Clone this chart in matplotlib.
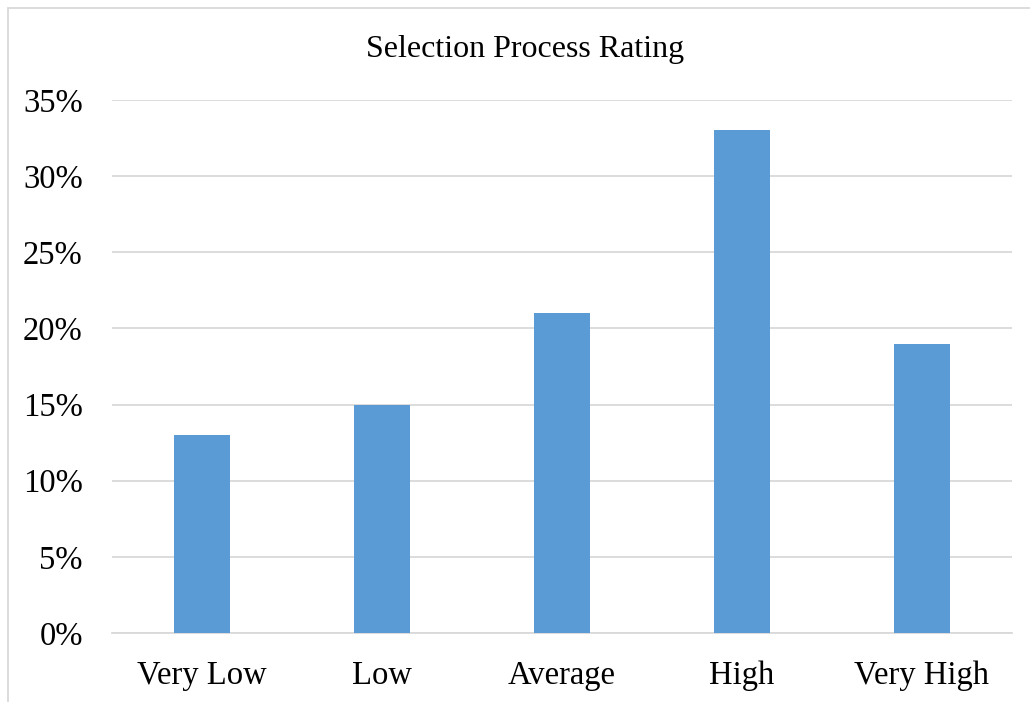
import matplotlib
matplotlib.use("Agg")
import matplotlib.pyplot as plt
from matplotlib.ticker import FuncFormatter, MultipleLocator
from matplotlib.patches import Rectangle

categories = ["Very Low", "Low", "Average", "High", "Very High"]
shares = [13, 15, 21, 33, 19]
title = "Selection Process Rating"

plt.rcParams["font.family"] = ["Liberation Serif", "DejaVu Serif"]

W, H = 1030, 702
fig = plt.figure(figsize=(W / 100, H / 100), dpi=100)

# light frame around the chart area (left and top edges visible)
fig.patches.append(Rectangle((8 / W, -0.1), 1.2, 1 - 7.5 / H + 0.1, transform=fig.transFigure,
                             fill=False, edgecolor="#d9d9d9", linewidth=1.3))

ax = fig.add_axes([112 / W, 1 - 633 / H, 900 / W, 533 / H])
x = range(len(categories))
ax.bar(x, shares, width=0.31, color="#5b9bd5", zorder=3)

ax.set_xlim(-0.5, len(categories) - 0.5)
ax.set_ylim(0, 35)
ax.yaxis.set_major_locator(MultipleLocator(5))
ax.yaxis.set_major_formatter(FuncFormatter(lambda v, p: f"{v:.0f}%"))
ax.grid(axis="y", color="#d9d9d9", linewidth=1.3, zorder=0)
ax.set_xticks(list(x))
ax.set_xticklabels(categories)
for s in ["top", "right", "left"]:
    ax.spines[s].set_visible(False)
ax.spines["bottom"].set_color("#d9d9d9")
ax.spines["bottom"].set_linewidth(1.3)
ax.tick_params(axis="both", length=0, labelsize=23.5, colors="black")
ax.tick_params(axis="y", pad=21)
ax.tick_params(axis="x", pad=20)

fig.text(525 / W, 1 - 49 / H, title, ha="center", va="center", fontsize=23)

fig.savefig("out.png", dpi=100, facecolor="white")
